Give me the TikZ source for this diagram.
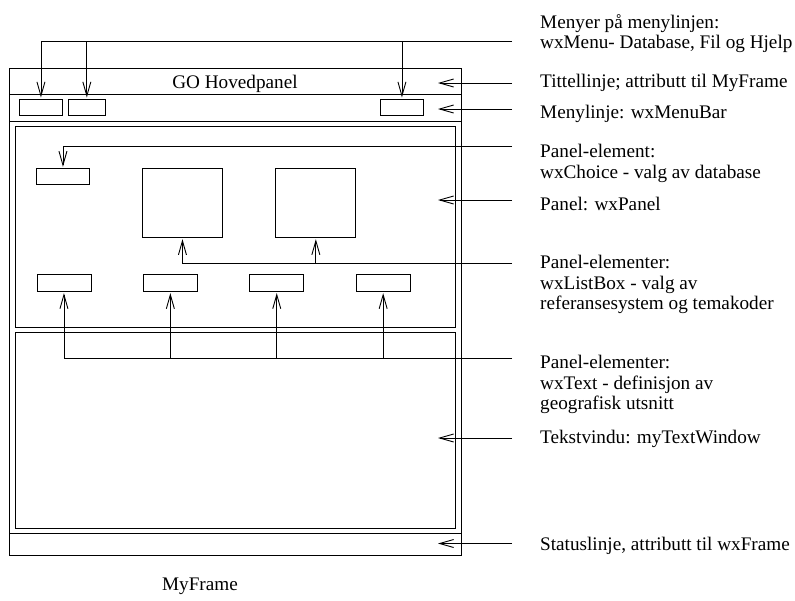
\documentclass[tikz,border=0pt]{standalone}
\usepackage{fontspec}
\setmainfont{Liberation Serif}
\usetikzlibrary{arrows.meta, positioning}
\tikzset{
	win/.style     ={rectangle, draw=black, line width=0.9pt, inner sep=0pt, anchor=north west},
	elem/.style    ={rectangle, draw=black, line width=0.9pt, inner sep=0pt, anchor=north west},
	note/.style    ={inner sep=0pt, align=left, font=\fontsize{19.2}{20.5}\selectfont},
	callout/.style ={-{Straight Barb[length=14pt, width=8pt]}, line width=0.9pt, shorten >=1.5pt},
}

\begin{document}
\begin{tikzpicture}[x=1pt, y=-1pt]
	\useasboundingbox (0,0) rectangle (795,600);
	% main window
	\node[win, minimum width=452pt, minimum height=487pt] (frame) at (9,67.5) {};
	\node[win, minimum width=452pt, minimum height=26pt] (title) at (9,67.5) {};
	\node[win, minimum width=452pt, minimum height=27pt] (bar) at (9,93.5) {};
	\node[win, minimum width=452pt, minimum height=21.5pt] (status) at (9,533) {};
	\node[win, minimum width=440pt, minimum height=201pt] (panel) at (15,125.7) {};
	\node[win, minimum width=440pt, minimum height=196pt] (txtwin) at (15,332) {};
	\node[note, anchor=base] (head) at (235,88) {GO Hovedpanel};
	\node[note, anchor=base] (cap) at (200,590) {MyFrame};
	% menus and panel elements
	\node[elem, minimum width=43pt, minimum height=16pt] (m1) at (19,99) {};
	\node[elem, minimum width=37pt, minimum height=16pt, right=5pt of m1] (m2) {};
	\node[elem, minimum width=43pt, minimum height=16pt] (m3) at (380,99) {};
	\node[elem, minimum width=53pt, minimum height=16pt] (choice) at (36,168.3) {};
	\node[elem, minimum width=80pt, minimum height=68.5pt] (lb1) at (142,168.3) {};
	\node[elem, minimum width=80pt, minimum height=68.5pt, right=52.5pt of lb1] (lb2) {};
	\node[elem, minimum width=54pt, minimum height=16.7pt] (tx1) at (36.5,274) {};
	\node[elem, minimum width=54pt, minimum height=16.7pt, right=51.5pt of tx1] (tx2) {};
	\node[elem, minimum width=54pt, minimum height=16.7pt, right=51.5pt of tx2] (tx3) {};
	\node[elem, minimum width=54pt, minimum height=16.7pt, right=51.5pt of tx3] (tx4) {};
	% labels
	\node[note, anchor=north west] (lMenu) at (540,14) {Menyer på menylinjen:\\wxMenu- Database, Fil og Hjelp};
	\node[note, anchor=base west] (lTitle) at (540,87) {Tittellinje; attributt til MyFrame};
	\node[note, anchor=base west] (lBar) at (540,118) {Menylinje: wxMenuBar};
	\node[note, anchor=north west] (lChoice) at (540,144) {Panel-element:\\wxChoice - valg av database};
	\node[note, anchor=base west] (lPanel) at (540,210) {Panel: wxPanel};
	\node[note, anchor=north west] (lList) at (540,255) {Panel-elementer:\\wxListBox - valg av\\referansesystem og temakoder};
	\node[note, anchor=north west] (lText) at (540,355) {Panel-elementer:\\wxText - definisjon av\\geografisk utsnitt};
	\node[note, anchor=base west] (lWin) at (540,443) {Tekstvindu: myTextWindow};
	\node[note, anchor=base west] (lStatus) at (540,550) {Statuslinje, attributt til wxFrame};
	% connector ends
	\coordinate (cMenu) at (512,41.7);
	\coordinate (cTitle) at (512,83);
	\coordinate (cBar) at (512,109);
	\coordinate (cChoice) at (512,146.7);
	\coordinate (cPanel) at (512,200);
	\coordinate (cList) at (512,263.3);
	\coordinate (cText) at (512,358.5);
	\coordinate (cWin) at (512,438);
	\coordinate (cStatus) at (512,543.5);
	\coordinate (tip) at (436.5,0);
	% connectors
	\draw[callout] (cMenu) -| (m1.north);
	\draw[callout] (m2.north |- cMenu) -- (m2.north);
	\draw[callout] (m3.north |- cMenu) -- (m3.north);
	\draw[callout] (cTitle) -- (cTitle -| tip);
	\draw[callout] (cBar) -- (cBar -| tip);
	\draw[callout] (cChoice) -| (choice.north);
	\draw[callout] (cPanel) -- (cPanel -| tip);
	\draw[callout] (cList) -| (lb1.south);
	\draw[callout] (lb2.south |- cList) -- (lb2.south);
	\draw[callout] (cText) -| (tx1.south);
	\draw[callout] (tx2.south |- cText) -- (tx2.south);
	\draw[callout] (tx3.south |- cText) -- (tx3.south);
	\draw[callout] (tx4.south |- cText) -- (tx4.south);
	\draw[callout] (cWin) -- (cWin -| tip);
	\draw[callout] (cStatus) -- (cStatus -| tip);
\end{tikzpicture}
\end{document}
